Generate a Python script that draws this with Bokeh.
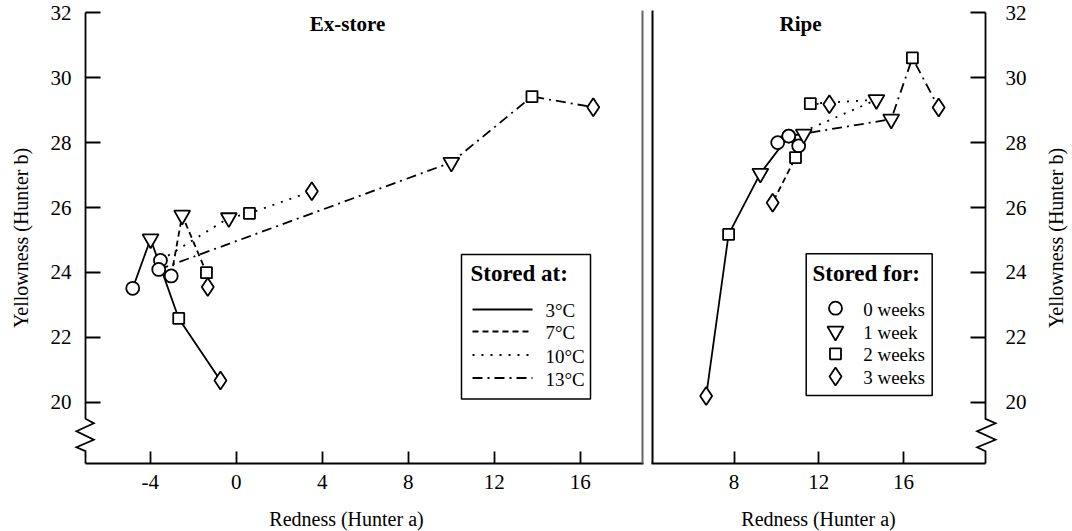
import math
from bokeh.plotting import figure
from bokeh.layouts import row
from bokeh.models import Range1d, FixedTicker, Label, BoxAnnotation
from bokeh.embed import file_html
from bokeh.resources import INLINE

FONT = "Liberation Serif"

temperatures = ["3°C", "7°C", "10°C", "13°C"]
storage_weeks = ["0 weeks", "1 week", "2 weeks", "3 weeks"]

# Ex-store colour: Hunter a and Hunter b after 0, 1, 2 and 3 weeks of storage
exstore_a_3c = [-4.82, -3.99, -2.68, -0.74]
exstore_b_3c = [23.51, 25.03, 22.58, 20.67]
exstore_a_7c = [-3.03, -2.52, -1.39, -1.33]
exstore_b_7c = [23.89, 25.76, 23.99, 23.55]
exstore_a_10c = [-3.53, -0.35, 0.61, 3.51]
exstore_b_10c = [24.37, 25.68, 25.82, 26.50]
exstore_a_13c = [-3.61, 10.00, 13.75, 16.60]
exstore_b_13c = [24.09, 27.39, 29.42, 29.09]

# Ripe colour: Hunter a and Hunter b after 0, 1, 2 and 3 weeks of storage
ripe_a_3c = [10.58, 9.24, 7.74, 6.68]
ripe_b_3c = [28.20, 27.05, 25.17, 20.19]
ripe_a_7c = [11.05, 11.29, 10.90, 9.82]
ripe_b_7c = [27.90, 28.26, 27.54, 26.15]
ripe_a_10c = [10.06, 14.72, 11.60, 12.50]
ripe_b_10c = [28.00, 29.32, 29.20, 29.18]
ripe_a_13c = [10.58, 15.42, 16.42, 17.66]
ripe_b_13c = [28.20, 28.72, 30.61, 29.08]

y_ticks = [20, 22, 24, 26, 28, 30, 32]
exstore_x_ticks = [-4, 0, 4, 8, 12, 16]
ripe_x_ticks = [8, 12, 16]

# ---- styling -------------------------------------------------------------
DASHES = ["solid", "6 4", "2 7", "10 5 2 5"]
MARKERS = ["circle", "inverted_triangle", "square", "diamond"]
MARKER_SIZES = [13, 16, 11, 18]
LINE_W = 1.8
TICK_FONT = "21px"
TITLE_FONT = "20px"

# ---- page layout (pixels) --------------------------------------------------
# Each panel's plotting area covers its whole canvas; the axes are pinned at
# fixed positions inside it so that the axis breaks and titles can sit freely.
PAGE_W, PAGE_H = 1072, 531
AXIS_TOP, AXIS_BOTTOM = 12, 463
Y_AT_TOP, Y_AT_BOTTOM = 32.01, 18.11

L_FIG_LEFT, L_FIG_W = 0, 644
L_AXIS_X, L_BORDER_X = 85, 642
L_PX_PER_UNIT, L_ZERO_PX = 21.5, 235.85

R_FIG_LEFT, R_FIG_W = 644, PAGE_W - 644
R_BORDER_X, R_AXIS_X = 652, 985
R_PX_PER_UNIT, R_TWELVE_PX = 21.175, 818.3


def data_y(py):
    return Y_AT_TOP - (py - AXIS_TOP) * (Y_AT_TOP - Y_AT_BOTTOM) / (AXIS_BOTTOM - AXIS_TOP)


def ex_x(px):
    return (px - L_ZERO_PX) / L_PX_PER_UNIT


def ripe_x(px):
    return 12 + (px - R_TWELVE_PX) / R_PX_PER_UNIT


def style_axis(ax, ticks, tick_len, label_standoff):
    ax.ticker = FixedTicker(ticks=ticks)
    ax.major_label_overrides = {t: str(t) for t in ticks}
    ax.minor_tick_line_color = None
    ax.major_tick_in = tick_len
    ax.major_tick_out = 0
    ax.major_tick_line_width = 1.8
    ax.major_tick_line_color = "black"
    ax.axis_line_color = None
    ax.major_label_text_font = FONT
    ax.major_label_text_font_size = TICK_FONT
    ax.major_label_text_color = "black"
    ax.major_label_standoff = label_standoff
    ax.axis_label = None


def base_figure(fig_left, width, x_range, y_loc):
    p = figure(width=width, height=PAGE_H, x_range=x_range,
               y_range=Range1d(data_y(PAGE_H), data_y(0)),
               output_backend="svg", toolbar_location=None, y_axis_location=y_loc,
               min_border=0, min_border_left=0, min_border_right=0,
               min_border_top=0, min_border_bottom=0)
    p.grid.visible = False
    p.outline_line_color = None
    p.background_fill_color = "white"
    p.border_fill_color = "white"
    # page-pixel coordinates for frame decorations and keys
    p.extra_x_ranges = {"px": Range1d(fig_left, fig_left + width)}
    p.extra_y_ranges = {"px": Range1d(PAGE_H, 0)}
    return p


def draw_series(p, a_lists, b_lists):
    for a, b, dash in zip(a_lists, b_lists, DASHES):
        p.line(a, b, line_color="black", line_width=LINE_W, line_dash=dash)
    for i, (marker, size) in enumerate(zip(MARKERS, MARKER_SIZES)):
        xs = [a[i] for a in a_lists]
        ys = [b[i] for b in b_lists]
        p.scatter(xs, ys, marker=marker, size=size, fill_color="white",
                  line_color="black", line_width=LINE_W)


def text(p, fig_left, px, py, s, size, bold=False, align="left", angle=0.0):
    p.add_layout(Label(x=px - fig_left, y=PAGE_H - py, x_units="screen",
                       y_units="screen", text=s, text_font=FONT, angle=angle,
                       text_font_size=size, text_font_style="bold" if bold else "normal",
                       text_align=align, text_baseline="middle", text_color="black"))


def page_line(p, pts, width=LINE_W, color="black", dash="solid"):
    p.line([x for x, _ in pts], [y for _, y in pts], x_range_name="px",
           y_range_name="px", line_color=color, line_width=width, line_dash=dash,
           line_join="miter")


def y_axis_with_break(p, axis_px, left_off, right_off):
    # vertical axis line with a zigzag break just above the x axis
    pts = [(0, AXIS_TOP), (0, 418.3), (right_off, 422.7), (-left_off, 430.7),
           (right_off, 439.3), (-left_off, 446.7), (0, 450.7), (0, AXIS_BOTTOM)]
    page_line(p, [(axis_px + dx, y) for dx, y in pts], width=1.8)


def key_box(p, fig_left, left, top, right, bottom):
    p.add_layout(BoxAnnotation(left=left - fig_left, right=right - fig_left,
                               top=PAGE_H - top, bottom=PAGE_H - bottom,
                               left_units="screen", right_units="screen",
                               top_units="screen", bottom_units="screen",
                               fill_color="white", fill_alpha=1.0, level="underlay",
                               line_color="black", line_width=1.5, line_alpha=1.0))


# ---- Ex-store panel ------------------------------------------------------
p1 = base_figure(L_FIG_LEFT, L_FIG_W, Range1d(ex_x(L_FIG_LEFT), ex_x(L_FIG_LEFT + L_FIG_W)),
                 "left")
style_axis(p1.xaxis[0], exstore_x_ticks, 12, 11)
p1.xaxis[0].fixed_location = data_y(AXIS_BOTTOM)
style_axis(p1.yaxis[0], y_ticks, 15, 14)
p1.yaxis[0].fixed_location = ex_x(L_AXIS_X)

y_axis_with_break(p1, L_AXIS_X, 9, 8.3)
page_line(p1, [(L_AXIS_X, AXIS_BOTTOM), (L_BORDER_X + 1, AXIS_BOTTOM)], width=2)
page_line(p1, [(L_BORDER_X, 10), (L_BORDER_X, AXIS_BOTTOM)], width=2, color="#666666")
text(p1, L_FIG_LEFT, 346, 518, "Redness (Hunter a)", TITLE_FONT, align="center")
text(p1, L_FIG_LEFT, 20, 237.5, "Yellowness (Hunter b)", TITLE_FONT, align="center",
     angle=math.pi / 2)

draw_series(p1, [exstore_a_3c, exstore_a_7c, exstore_a_10c, exstore_a_13c],
            [exstore_b_3c, exstore_b_7c, exstore_b_10c, exstore_b_13c])
text(p1, L_FIG_LEFT, 347, 23, "Ex-store", "21px", bold=True, align="center")

# temperature key
key_box(p1, L_FIG_LEFT, 461, 254, 590, 398.5)
text(p1, L_FIG_LEFT, 470, 273, "Stored at:", "23px", bold=True)
key_rows = [309, 331, 354.5, 377.5]
for label, dash, ky in zip(temperatures, DASHES, key_rows):
    page_line(p1, [(472, ky), (532, ky)], dash=dash)
    text(p1, L_FIG_LEFT, 545, ky + 1, label, "19px")

# ---- Ripe panel ----------------------------------------------------------
p2 = base_figure(R_FIG_LEFT, R_FIG_W, Range1d(ripe_x(R_FIG_LEFT), ripe_x(R_FIG_LEFT + R_FIG_W)),
                 "right")
style_axis(p2.xaxis[0], ripe_x_ticks, 12, 11)
p2.xaxis[0].fixed_location = data_y(AXIS_BOTTOM)
style_axis(p2.yaxis[0], y_ticks, 15, 20)
p2.yaxis[0].fixed_location = ripe_x(R_AXIS_X)

y_axis_with_break(p2, R_AXIS_X, 8.3, 10)
page_line(p2, [(R_BORDER_X - 1, AXIS_BOTTOM), (R_AXIS_X, AXIS_BOTTOM)], width=2)
page_line(p2, [(R_BORDER_X, 10), (R_BORDER_X, AXIS_BOTTOM)], width=2)
text(p2, R_FIG_LEFT, 818, 518, "Redness (Hunter a)", TITLE_FONT, align="center")
text(p2, R_FIG_LEFT, 1055, 237.5, "Yellowness (Hunter b)", TITLE_FONT, align="center",
     angle=math.pi / 2)

draw_series(p2, [ripe_a_3c, ripe_a_7c, ripe_a_10c, ripe_a_13c],
            [ripe_b_3c, ripe_b_7c, ripe_b_10c, ripe_b_13c])
text(p2, R_FIG_LEFT, 800, 23, "Ripe", "21px", bold=True, align="center")

# storage-time key
key_box(p2, R_FIG_LEFT, 805.7, 253.3, 931.7, 395)
text(p2, R_FIG_LEFT, 812, 273, "Stored for:", "23px", bold=True)
week_rows = [307.7, 330.7, 353.3, 376]
for label, marker, size, ky in zip(storage_weeks, MARKERS, MARKER_SIZES, week_rows):
    p2.scatter([835], [ky], marker=marker, size=size, x_range_name="px",
               y_range_name="px", fill_color="white", line_color="black",
               line_width=LINE_W)
    text(p2, R_FIG_LEFT, 862.7, ky + 1, label, "19px")

layout = row(p1, p2)
open("out.html", "w").write(file_html(layout, INLINE))
